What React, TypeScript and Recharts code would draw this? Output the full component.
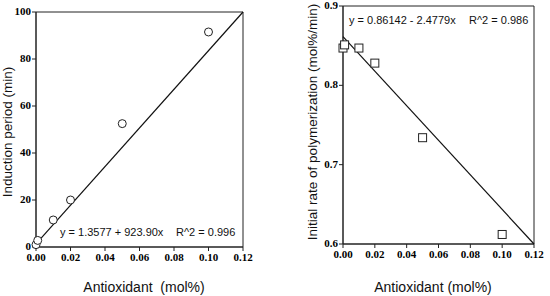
import React from "react";
import {
  ReferenceArea,
  Scatter,
  ScatterChart,
  XAxis,
  YAxis,
} from "recharts";

// left panel: induction period vs antioxidant
const inductionPoints = [
  { x: 0.0, y: 1.0 },
  { x: 0.001, y: 2.8 },
  { x: 0.01, y: 11.5 },
  { x: 0.02, y: 20 },
  { x: 0.05, y: 52.5 },
  { x: 0.1, y: 91.5 },
];
const inductionFit = [
  { x: 0.0, y: 1.36 },
  { x: 0.12, y: 100 },
];

// right panel: initial rate of polymerization vs antioxidant
const ratePoints = [
  { x: 0.0, y: 0.847 },
  { x: 0.001, y: 0.851 },
  { x: 0.01, y: 0.847 },
  { x: 0.02, y: 0.828 },
  { x: 0.05, y: 0.734 },
  { x: 0.1, y: 0.612 },
];
const rateFit = [
  { x: 0.0, y: 0.8614 },
  { x: 0.12, y: 0.6 },
];

const xTicks = [0, 0.02, 0.04, 0.06, 0.08, 0.1, 0.12];
const inductionTicks = [0, 20, 40, 60, 80, 100];
const rateTicks = [0.6, 0.7, 0.8, 0.9];

const serif = "'Liberation Serif', 'Times New Roman', serif";
const sans = "'Liberation Sans', Arial, sans-serif";
const tickFont = { fontFamily: serif, fontWeight: 700, fontSize: 11, fill: "#000" };

const XTick = (p: any) => (
  <text x={p.x} y={p.y + 9} textAnchor="middle" style={tickFont}>
    {Number(p.payload.value).toFixed(2)}
  </text>
);
const makeYTick = (digits: number) => (p: any) => (
  <text x={p.x} y={p.y + 3} textAnchor="end" style={tickFont}>
    {digits ? Number(p.payload.value).toFixed(digits) : p.payload.value}
  </text>
);

const Circle = (p: any) => (
  <circle cx={p.cx} cy={p.cy} r={4} fill="#fff" stroke="#222" strokeWidth={1} />
);
const Square = (p: any) => (
  <rect x={p.cx - 4} y={p.cy - 4} width={8} height={8} fill="#fff" stroke="#222" strokeWidth={1} />
);
const NoDot = () => <g />;

const App = () => {
  const text = { position: "absolute" as const, whiteSpace: "pre" as const, fontFamily: sans, color: "#111" };
  return (
    <div style={{ position: "absolute", left: 0, top: 0, width: 550, height: 296, background: "#fff" }}>
      <div style={{ position: "absolute", left: 0, top: 0 }}>
        <ScatterChart width={275} height={296} margin={{ top: 12, right: 32, bottom: 0, left: 0 }}>
          <XAxis
            type="number"
            dataKey="x"
            domain={[0, 0.12]}
            ticks={xTicks}
            tick={XTick}
            tickSize={4}
            tickMargin={1}
            height={49}
            stroke="#222"
            interval={0}
          />
          <YAxis
            type="number"
            dataKey="y"
            domain={[0, 100]}
            ticks={inductionTicks}
            tick={makeYTick(0)}
            tickSize={4}
            tickMargin={1}
            width={36}
            stroke="#222"
            interval={0}
          />
          <ReferenceArea x1={0} x2={0.12} y1={0} y2={100} fill="none" stroke="#222" strokeWidth={1} />
          <Scatter data={inductionFit} line={{ stroke: "#111", strokeWidth: 1.2 }} shape={NoDot} isAnimationActive={false} />
          <Scatter data={inductionPoints} shape={Circle} isAnimationActive={false} />
        </ScatterChart>
      </div>
      <div style={{ position: "absolute", left: 275, top: 0 }}>
        <ScatterChart width={275} height={296} margin={{ top: 6, right: 16, bottom: 0, left: 0 }}>
          <XAxis
            type="number"
            dataKey="x"
            domain={[0, 0.12]}
            ticks={xTicks}
            tick={XTick}
            tickSize={4}
            tickMargin={1}
            height={52}
            stroke="#222"
            interval={0}
          />
          <YAxis
            type="number"
            dataKey="y"
            domain={[0.6, 0.9]}
            ticks={rateTicks}
            tick={makeYTick(1)}
            tickSize={4}
            tickMargin={1}
            width={68}
            stroke="#222"
            interval={0}
          />
          <ReferenceArea x1={0} x2={0.12} y1={0.6} y2={0.9} fill="none" stroke="#222" strokeWidth={1} />
          <Scatter data={rateFit} line={{ stroke: "#111", strokeWidth: 1.2 }} shape={NoDot} isAnimationActive={false} />
          <Scatter data={ratePoints} shape={Square} isAnimationActive={false} />
        </ScatterChart>
      </div>

      {/* axis titles and fit equations */}
      <div style={{ ...text, left: 7, top: 132, transform: "translate(-50%, -50%) rotate(-90deg)", fontSize: 13.5 }}>
        Induction period (min)
      </div>
      <div style={{ ...text, left: 312, top: 122, transform: "translate(-50%, -50%) rotate(-90deg)", fontSize: 13.5 }}>
        Initial rate of polymerization (mol%/min)
      </div>
      <div style={{ ...text, left: 144, top: 287, transform: "translate(-50%, -50%)", fontSize: 14 }}>
        {"Antioxidant  (mol%)"}
      </div>
      <div style={{ ...text, left: 433, top: 287, transform: "translate(-50%, -50%)", fontSize: 14 }}>
        {"Antioxidant (mol%)"}
      </div>
      <div style={{ ...text, left: 60, top: 232, transform: "translateY(-50%)", fontSize: 11 }}>
        {"y = 1.3577 + 923.90x"}
      </div>
      <div style={{ ...text, left: 176, top: 232, transform: "translateY(-50%)", fontSize: 11 }}>
        {"R^2 = 0.996"}
      </div>
      <div style={{ ...text, left: 349, top: 20, transform: "translateY(-50%)", fontSize: 11 }}>
        {"y = 0.86142 - 2.4779x"}
      </div>
      <div style={{ ...text, left: 469, top: 20, transform: "translateY(-50%)", fontSize: 11 }}>
        {"R^2 = 0.986"}
      </div>
    </div>
  );
};

export default App;
